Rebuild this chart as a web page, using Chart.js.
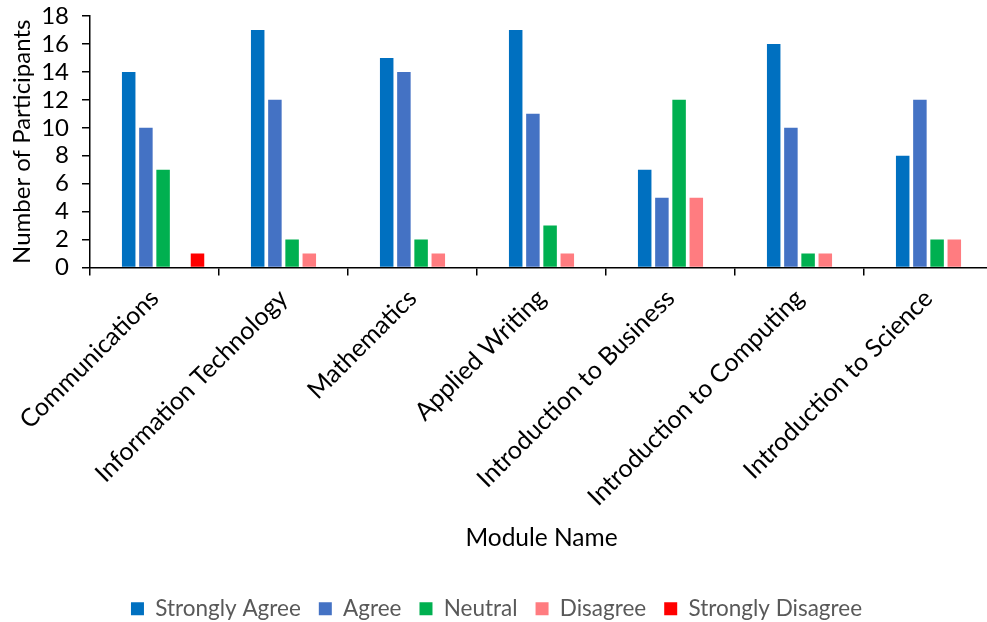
<!DOCTYPE html>
<html>
<head>
<meta charset="utf-8">
<script src="https://cdn.jsdelivr.net/npm/chart.js@4.4.1/dist/chart.umd.min.js"></script>
<style>
  html, body { margin: 0; padding: 0; overflow: hidden; background: #ffffff; }
  #wrap { position: absolute; left: 0; top: 0; width: 995px; height: 630px; }
</style>
</head>
<body>
<div id="wrap"><canvas id="chart"></canvas></div>
<script>
// Module names on the category axis
const categories = [
  'Communications',
  'Information Technology',
  'Mathematics',
  'Applied Writing',
  'Introduction to Business',
  'Introduction to Computing',
  'Introduction to Science'
];

// Number of participants per response, one array per answer
const stronglyAgree    = [14, 17, 15, 17, 7, 16, 8];
const agree            = [10, 12, 14, 11, 5, 10, 12];
const neutral          = [7, 2, 2, 3, 12, 1, 2];
const disagree         = [0, 1, 1, 1, 5, 1, 2];
const stronglyDisagree = [1, 0, 0, 0, 0, 0, 0];

// Value axis ticks
const yTicks = [0, 2, 4, 6, 8, 10, 12, 14, 16, 18];

const FONT = 'Lato, "Open Sans", sans-serif';

const datasets = [
  // empty leading slot in each group (keeps the cluster to the right of centre)
  { label: '', data: categories.map(() => null), backgroundColor: 'rgba(0,0,0,0)' },
  { label: 'Strongly Agree',    data: stronglyAgree,    backgroundColor: '#0070C0' },
  { label: 'Agree',             data: agree,            backgroundColor: '#4472C4' },
  { label: 'Neutral',           data: neutral,          backgroundColor: '#00B050' },
  { label: 'Disagree',          data: disagree,         backgroundColor: '#FF7C80' },
  { label: 'Strongly Disagree', data: stronglyDisagree, backgroundColor: '#FF0000' }
];

new Chart(document.getElementById('chart'), {
  type: 'bar',
  data: { labels: categories, datasets: datasets },
  options: {
    responsive: true,
    maintainAspectRatio: false,
    animation: false,
    datasets: {
      bar: { categoryPercentage: 0.8, barPercentage: 0.785, borderWidth: 0 }
    },
    layout: { padding: { left: 0, right: 2, top: 16, bottom: 0 } },
    plugins: {
      tooltip: { enabled: false },
      legend: {
        position: 'bottom',
        labels: {
          filter: (item) => item.text !== '',
          boxWidth: 13,
          boxHeight: 13,
          padding: 18,
          color: '#595959',
          font: { family: FONT, size: 22.5 }
        }
      }
    },
    scales: {
      x: {
        offset: true,
        grid: {
          offset: true,
          drawOnChartArea: false,
          drawTicks: true,
          tickLength: 8,
          color: '#000000',
          lineWidth: 1.5
        },
        border: { display: true, color: '#000000', width: 1.5 },
        ticks: {
          autoSkip: false,
          minRotation: 45,
          maxRotation: 45,
          padding: 8,
          color: '#000000',
          font: { family: FONT, size: 25 }
        },
        title: {
          display: true,
          text: 'Module Name',
          color: '#000000',
          font: { family: FONT, size: 24.5 },
          padding: { top: 0, bottom: 27 }
        },
        afterFit: (scale) => { scale.height = 312; }
      },
      y: {
        min: 0,
        max: 18,
        afterBuildTicks: (scale) => { scale.ticks = yTicks.map(v => ({ value: v })); },
        grid: {
          drawOnChartArea: false,
          drawTicks: true,
          tickLength: 8,
          color: '#000000',
          lineWidth: 1.5
        },
        border: { display: true, color: '#000000', width: 1.5 },
        ticks: {
          autoSkip: false,
          padding: 13,
          color: '#000000',
          font: { family: FONT, size: 24 }
        },
        title: {
          display: true,
          text: 'Number of Participants',
          color: '#000000',
          font: { family: FONT, size: 24 },
          padding: { top: 8, bottom: 0 }
        },
        afterFit: (scale) => {
          scale.width = 90;
          // the top label may overhang the plot; let the layout padding govern the top edge
          scale.paddingTop = 0;
          scale.paddingBottom = 0;
        }
      }
    }
  }
});
</script>
</body>
</html>
